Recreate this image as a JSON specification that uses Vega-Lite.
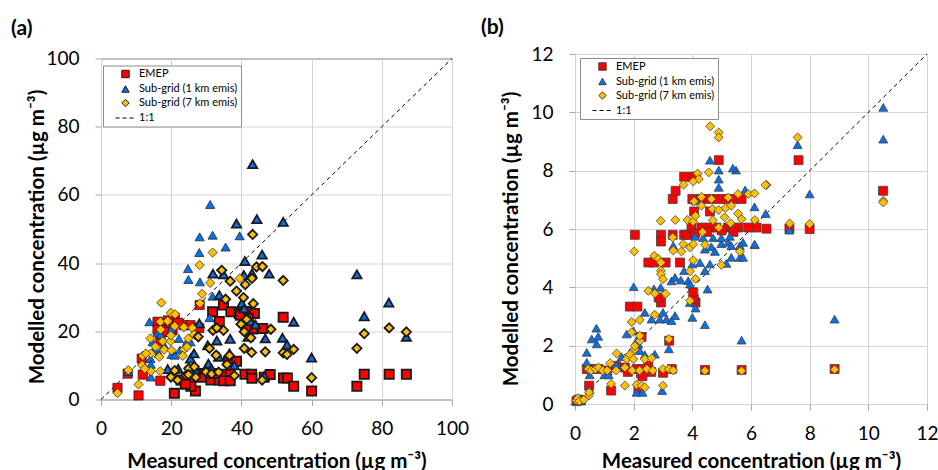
{
"$schema":"https://vega.github.io/schema/vega-lite/v6.json",
"background":"white",
"padding":{"left":10,"top":16,"right":4,"bottom":0},
"config":{
 "font":"Lato",
 "axis":{"domain":false,"grid":true,"gridColor":"#d4d4d4","gridWidth":1,"tickColor":"#a6a6a6","tickSize":6,"labelFont":"Lato","labelFontSize":19,"labelColor":"#000","labelFlush":false,"labelOverlap":false,"titleFont":"Lato","titleFontSize":20.5,"titleFontWeight":"bold","titleColor":"#000"},
 "legend":{"title":null,"orient":"none","strokeColor":"#8c8c8c","fillColor":"white","padding":3,"symbolOffset":14,"labelOffset":8,"labelFont":"Lato","labelFontSize":11,"labelColor":"#000","symbolSize":55,"symbolStrokeWidth":1,"rowPadding":2,"labelLimit":300},
 "title":{"font":"Lato","fontSize":21,"fontWeight":"bold","color":"#000","anchor":"start","frame":"group"}
},
"datasets":{
 "diagA":[{"x":0,"y":0},{"x":100,"y":100}],
 "diagB":[{"x":0,"y":0},{"x":12,"y":12}],
 "a":[
{"s":"EMEP","x":4.7,"y":3.4,"g":"thin"},{"s":"EMEP","x":10.7,"y":1.2,"g":"thin"},{"s":"EMEP","x":7.6,"y":7.6,"g":"thin"},{"s":"EMEP","x":11.9,"y":7.3,"g":"thin"},{"s":"EMEP","x":11.6,"y":12.0,"g":"thin"},{"s":"EMEP","x":16.9,"y":5.5,"g":"thin"},{"s":"EMEP","x":16.1,"y":22.8,"g":"thin"},{"s":"EMEP","x":17.6,"y":22.3,"g":"thin"},{"s":"EMEP","x":16.1,"y":20.5,"g":"thin"},{"s":"EMEP","x":16.9,"y":17.1,"g":"thin"},{"s":"EMEP","x":19.5,"y":22.0,"g":"thin"},{"s":"EMEP","x":20.4,"y":20.3,"g":"thin"},{"s":"EMEP","x":21.0,"y":24.0,"g":"thin"},{"s":"EMEP","x":23.5,"y":21.8,"g":"thin"},{"s":"EMEP","x":25.5,"y":21.8,"g":"thin"},{"s":"EMEP","x":28.0,"y":21.0,"g":"thin"},{"s":"EMEP","x":28.1,"y":27.7,"g":"thin"},{"s":"EMEP","x":19.0,"y":23.2,"g":"thin"},{"s":"EMEP","x":22.0,"y":22.5,"g":"thin"},{"s":"EMEP","x":18.0,"y":19.8,"g":"thin"},
{"s":"EMEP","x":20.9,"y":1.8,"g":"thick"},{"s":"EMEP","x":26.9,"y":2.5,"g":"thick"},{"s":"EMEP","x":22.8,"y":5.7,"g":"thick"},{"s":"EMEP","x":25.2,"y":5.7,"g":"thick"},{"s":"EMEP","x":25.6,"y":3.9,"g":"thick"},{"s":"EMEP","x":24.0,"y":4.5,"g":"thick"},{"s":"EMEP","x":28.0,"y":7.6,"g":"thick"},{"s":"EMEP","x":29.5,"y":7.4,"g":"thick"},{"s":"EMEP","x":31.3,"y":5.7,"g":"thick"},{"s":"EMEP","x":33.7,"y":5.7,"g":"thick"},{"s":"EMEP","x":31.3,"y":7.6,"g":"thick"},{"s":"EMEP","x":32.3,"y":7.6,"g":"thick"},{"s":"EMEP","x":34.9,"y":7.4,"g":"thick"},{"s":"EMEP","x":36.8,"y":7.4,"g":"thick"},{"s":"EMEP","x":34.9,"y":5.5,"g":"thick"},{"s":"EMEP","x":36.8,"y":5.5,"g":"thick"},{"s":"EMEP","x":41.0,"y":7.4,"g":"thick"},{"s":"EMEP","x":42.9,"y":7.4,"g":"thick"},{"s":"EMEP","x":43.0,"y":6.2,"g":"thick"},{"s":"EMEP","x":46.5,"y":6.5,"g":"thick"},{"s":"EMEP","x":48.2,"y":7.3,"g":"thick"},{"s":"EMEP","x":52.0,"y":6.3,"g":"thick"},{"s":"EMEP","x":53.1,"y":6.3,"g":"thick"},{"s":"EMEP","x":54.9,"y":3.9,"g":"thick"},{"s":"EMEP","x":60.0,"y":2.5,"g":"thick"},{"s":"EMEP","x":72.9,"y":3.9,"g":"thick"},{"s":"EMEP","x":75.0,"y":7.4,"g":"thick"},{"s":"EMEP","x":82.1,"y":7.4,"g":"thick"},{"s":"EMEP","x":87.0,"y":7.4,"g":"thick"},{"s":"EMEP","x":36.3,"y":11.2,"g":"thick"},{"s":"EMEP","x":38.6,"y":11.2,"g":"thick"},{"s":"EMEP","x":31.8,"y":25.7,"g":"thick"},{"s":"EMEP","x":34.9,"y":27.7,"g":"thick"},{"s":"EMEP","x":37.0,"y":25.7,"g":"thick"},{"s":"EMEP","x":39.4,"y":25.2,"g":"thick"},{"s":"EMEP","x":40.8,"y":25.7,"g":"thick"},{"s":"EMEP","x":42.3,"y":25.7,"g":"thick"},{"s":"EMEP","x":43.7,"y":25.2,"g":"thick"},{"s":"EMEP","x":39.7,"y":24.7,"g":"thick"},{"s":"EMEP","x":42.0,"y":23.8,"g":"thick"},{"s":"EMEP","x":43.2,"y":20.7,"g":"thick"},{"s":"EMEP","x":46.1,"y":20.8,"g":"thick"},{"s":"EMEP","x":41.3,"y":21.3,"g":"thick"},{"s":"EMEP","x":33.7,"y":22.9,"g":"thick"},{"s":"EMEP","x":51.9,"y":24.1,"g":"thick"},{"s":"EMEP","x":28.5,"y":6.5,"g":"thick"},
{"s":"Sub-grid (1 km emis)","x":31.1,"y":57.2,"g":"thin"},{"s":"Sub-grid (1 km emis)","x":28.1,"y":47.7,"g":"thin"},{"s":"Sub-grid (1 km emis)","x":31.8,"y":48.2,"g":"thin"},{"s":"Sub-grid (1 km emis)","x":39.5,"y":48.0,"g":"thin"},{"s":"Sub-grid (1 km emis)","x":35.5,"y":44.7,"g":"thin"},{"s":"Sub-grid (1 km emis)","x":28.0,"y":43.1,"g":"thin"},{"s":"Sub-grid (1 km emis)","x":24.8,"y":38.4,"g":"thin"},{"s":"Sub-grid (1 km emis)","x":24.9,"y":35.2,"g":"thin"},{"s":"Sub-grid (1 km emis)","x":28.2,"y":34.5,"g":"thin"},{"s":"Sub-grid (1 km emis)","x":31.8,"y":30.3,"g":"thin"},{"s":"Sub-grid (1 km emis)","x":13.8,"y":22.8,"g":"thin"},{"s":"Sub-grid (1 km emis)","x":16.2,"y":19.7,"g":"thin"},{"s":"Sub-grid (1 km emis)","x":17.0,"y":19.0,"g":"thin"},{"s":"Sub-grid (1 km emis)","x":19.8,"y":19.7,"g":"thin"},{"s":"Sub-grid (1 km emis)","x":20.1,"y":20.7,"g":"thin"},{"s":"Sub-grid (1 km emis)","x":22.2,"y":17.9,"g":"thin"},{"s":"Sub-grid (1 km emis)","x":24.5,"y":17.0,"g":"thin"},{"s":"Sub-grid (1 km emis)","x":25.5,"y":16.9,"g":"thin"},{"s":"Sub-grid (1 km emis)","x":15.2,"y":14.6,"g":"thin"},{"s":"Sub-grid (1 km emis)","x":18.0,"y":15.9,"g":"thin"},{"s":"Sub-grid (1 km emis)","x":20.1,"y":13.2,"g":"thin"},{"s":"Sub-grid (1 km emis)","x":21.0,"y":13.0,"g":"thin"},{"s":"Sub-grid (1 km emis)","x":14.1,"y":12.0,"g":"thin"},{"s":"Sub-grid (1 km emis)","x":14.2,"y":10.3,"g":"thin"},{"s":"Sub-grid (1 km emis)","x":14.2,"y":6.6,"g":"thin"},{"s":"Sub-grid (1 km emis)","x":14.7,"y":16.9,"g":"thin"},{"s":"Sub-grid (1 km emis)","x":30.9,"y":24.0,"g":"thin"},{"s":"Sub-grid (1 km emis)","x":7.8,"y":8.2,"g":"thin"},{"s":"Sub-grid (1 km emis)","x":22.5,"y":14.5,"g":"thin"},{"s":"Sub-grid (1 km emis)","x":16.5,"y":13.5,"g":"thin"},
{"s":"Sub-grid (1 km emis)","x":43.2,"y":69.0,"g":"thick"},{"s":"Sub-grid (1 km emis)","x":38.6,"y":51.6,"g":"thick"},{"s":"Sub-grid (1 km emis)","x":44.4,"y":52.9,"g":"thick"},{"s":"Sub-grid (1 km emis)","x":51.9,"y":52.1,"g":"thick"},{"s":"Sub-grid (1 km emis)","x":45.9,"y":42.5,"g":"thick"},{"s":"Sub-grid (1 km emis)","x":41.0,"y":40.6,"g":"thick"},{"s":"Sub-grid (1 km emis)","x":31.9,"y":36.9,"g":"thick"},{"s":"Sub-grid (1 km emis)","x":34.9,"y":36.7,"g":"thick"},{"s":"Sub-grid (1 km emis)","x":40.7,"y":36.5,"g":"thick"},{"s":"Sub-grid (1 km emis)","x":43.0,"y":37.0,"g":"thick"},{"s":"Sub-grid (1 km emis)","x":47.9,"y":36.9,"g":"thick"},{"s":"Sub-grid (1 km emis)","x":33.7,"y":30.6,"g":"thick"},{"s":"Sub-grid (1 km emis)","x":40.1,"y":28.2,"g":"thick"},{"s":"Sub-grid (1 km emis)","x":72.9,"y":36.7,"g":"thick"},{"s":"Sub-grid (1 km emis)","x":82.0,"y":28.4,"g":"thick"},{"s":"Sub-grid (1 km emis)","x":75.0,"y":24.4,"g":"thick"},{"s":"Sub-grid (1 km emis)","x":87.0,"y":18.4,"g":"thick"},{"s":"Sub-grid (1 km emis)","x":60.0,"y":12.3,"g":"thick"},{"s":"Sub-grid (1 km emis)","x":54.9,"y":22.8,"g":"thick"},{"s":"Sub-grid (1 km emis)","x":51.7,"y":18.1,"g":"thick"},{"s":"Sub-grid (1 km emis)","x":53.0,"y":16.1,"g":"thick"},{"s":"Sub-grid (1 km emis)","x":40.8,"y":26.7,"g":"thick"},{"s":"Sub-grid (1 km emis)","x":41.9,"y":18.4,"g":"thick"},{"s":"Sub-grid (1 km emis)","x":46.8,"y":17.9,"g":"thick"},{"s":"Sub-grid (1 km emis)","x":36.8,"y":17.8,"g":"thick"},{"s":"Sub-grid (1 km emis)","x":33.0,"y":17.3,"g":"thick"},{"s":"Sub-grid (1 km emis)","x":30.4,"y":15.9,"g":"thick"},{"s":"Sub-grid (1 km emis)","x":30.6,"y":10.5,"g":"thick"},{"s":"Sub-grid (1 km emis)","x":28.0,"y":22.3,"g":"thick"},{"s":"Sub-grid (1 km emis)","x":19.0,"y":8.9,"g":"thick"},{"s":"Sub-grid (1 km emis)","x":46.5,"y":6.9,"g":"thick"},{"s":"Sub-grid (1 km emis)","x":22.0,"y":9.0,"g":"thick"},{"s":"Sub-grid (1 km emis)","x":25.5,"y":12.0,"g":"thick"},{"s":"Sub-grid (1 km emis)","x":27.0,"y":8.5,"g":"thick"},{"s":"Sub-grid (1 km emis)","x":33.5,"y":12.5,"g":"thick"},{"s":"Sub-grid (1 km emis)","x":36.6,"y":13.5,"g":"thick"},{"s":"Sub-grid (1 km emis)","x":42.5,"y":23.0,"g":"thick"},{"s":"Sub-grid (1 km emis)","x":44.0,"y":22.0,"g":"thick"},{"s":"Sub-grid (1 km emis)","x":26.5,"y":13.5,"g":"thick"},{"s":"Sub-grid (1 km emis)","x":38.0,"y":10.0,"g":"thick"},{"s":"Sub-grid (1 km emis)","x":31.5,"y":9.0,"g":"thick"},
{"s":"Sub-grid (7 km emis)","x":17.2,"y":28.4,"g":"thin"},{"s":"Sub-grid (7 km emis)","x":28.1,"y":39.4,"g":"thin"},{"s":"Sub-grid (7 km emis)","x":31.8,"y":43.1,"g":"thin"},{"s":"Sub-grid (7 km emis)","x":31.1,"y":34.2,"g":"thin"},{"s":"Sub-grid (7 km emis)","x":28.8,"y":31.0,"g":"thin"},{"s":"Sub-grid (7 km emis)","x":28.2,"y":28.2,"g":"thin"},{"s":"Sub-grid (7 km emis)","x":39.5,"y":35.5,"g":"thin"},{"s":"Sub-grid (7 km emis)","x":19.9,"y":25.4,"g":"thin"},{"s":"Sub-grid (7 km emis)","x":21.1,"y":25.0,"g":"thin"},{"s":"Sub-grid (7 km emis)","x":16.9,"y":22.8,"g":"thin"},{"s":"Sub-grid (7 km emis)","x":19.0,"y":23.0,"g":"thin"},{"s":"Sub-grid (7 km emis)","x":23.6,"y":21.2,"g":"thin"},{"s":"Sub-grid (7 km emis)","x":14.1,"y":17.9,"g":"thin"},{"s":"Sub-grid (7 km emis)","x":17.6,"y":17.1,"g":"thin"},{"s":"Sub-grid (7 km emis)","x":19.8,"y":17.1,"g":"thin"},{"s":"Sub-grid (7 km emis)","x":19.9,"y":18.8,"g":"thin"},{"s":"Sub-grid (7 km emis)","x":24.9,"y":17.9,"g":"thin"},{"s":"Sub-grid (7 km emis)","x":18.0,"y":14.6,"g":"thin"},{"s":"Sub-grid (7 km emis)","x":20.1,"y":14.4,"g":"thin"},{"s":"Sub-grid (7 km emis)","x":14.2,"y":13.5,"g":"thin"},{"s":"Sub-grid (7 km emis)","x":23.7,"y":14.7,"g":"thin"},{"s":"Sub-grid (7 km emis)","x":24.5,"y":15.4,"g":"thin"},{"s":"Sub-grid (7 km emis)","x":23.3,"y":12.8,"g":"thin"},{"s":"Sub-grid (7 km emis)","x":16.6,"y":12.5,"g":"thin"},{"s":"Sub-grid (7 km emis)","x":11.9,"y":12.8,"g":"thin"},{"s":"Sub-grid (7 km emis)","x":11.7,"y":10.1,"g":"thin"},{"s":"Sub-grid (7 km emis)","x":14.2,"y":8.3,"g":"thin"},{"s":"Sub-grid (7 km emis)","x":16.9,"y":8.3,"g":"thin"},{"s":"Sub-grid (7 km emis)","x":7.8,"y":8.6,"g":"thin"},{"s":"Sub-grid (7 km emis)","x":10.7,"y":4.4,"g":"thin"},{"s":"Sub-grid (7 km emis)","x":4.7,"y":1.9,"g":"thin"},{"s":"Sub-grid (7 km emis)","x":12.5,"y":9.0,"g":"thin"},{"s":"Sub-grid (7 km emis)","x":15.5,"y":15.5,"g":"thin"},{"s":"Sub-grid (7 km emis)","x":21.0,"y":21.5,"g":"thin"},{"s":"Sub-grid (7 km emis)","x":26.0,"y":21.0,"g":"thin"},{"s":"Sub-grid (7 km emis)","x":26.5,"y":19.0,"g":"thin"},{"s":"Sub-grid (7 km emis)","x":17.0,"y":20.5,"g":"thin"},{"s":"Sub-grid (7 km emis)","x":12.8,"y":13.5,"g":"thin"},
{"s":"Sub-grid (7 km emis)","x":43.2,"y":48.4,"g":"thick"},{"s":"Sub-grid (7 km emis)","x":34.4,"y":37.9,"g":"thick"},{"s":"Sub-grid (7 km emis)","x":44.3,"y":38.9,"g":"thick"},{"s":"Sub-grid (7 km emis)","x":46.0,"y":39.0,"g":"thick"},{"s":"Sub-grid (7 km emis)","x":36.8,"y":34.7,"g":"thick"},{"s":"Sub-grid (7 km emis)","x":41.1,"y":33.7,"g":"thick"},{"s":"Sub-grid (7 km emis)","x":43.0,"y":35.5,"g":"thick"},{"s":"Sub-grid (7 km emis)","x":51.9,"y":34.9,"g":"thick"},{"s":"Sub-grid (7 km emis)","x":35.5,"y":29.4,"g":"thick"},{"s":"Sub-grid (7 km emis)","x":38.6,"y":31.8,"g":"thick"},{"s":"Sub-grid (7 km emis)","x":40.6,"y":29.9,"g":"thick"},{"s":"Sub-grid (7 km emis)","x":43.4,"y":28.1,"g":"thick"},{"s":"Sub-grid (7 km emis)","x":82.1,"y":21.0,"g":"thick"},{"s":"Sub-grid (7 km emis)","x":87.0,"y":19.8,"g":"thick"},{"s":"Sub-grid (7 km emis)","x":75.0,"y":19.3,"g":"thick"},{"s":"Sub-grid (7 km emis)","x":72.9,"y":15.0,"g":"thick"},{"s":"Sub-grid (7 km emis)","x":60.0,"y":6.4,"g":"thick"},{"s":"Sub-grid (7 km emis)","x":54.9,"y":14.7,"g":"thick"},{"s":"Sub-grid (7 km emis)","x":51.9,"y":13.7,"g":"thick"},{"s":"Sub-grid (7 km emis)","x":53.0,"y":13.2,"g":"thick"},{"s":"Sub-grid (7 km emis)","x":48.4,"y":20.6,"g":"thick"},{"s":"Sub-grid (7 km emis)","x":31.9,"y":20.3,"g":"thick"},{"s":"Sub-grid (7 km emis)","x":34.9,"y":20.3,"g":"thick"},{"s":"Sub-grid (7 km emis)","x":39.9,"y":22.1,"g":"thick"},{"s":"Sub-grid (7 km emis)","x":40.8,"y":19.9,"g":"thick"},{"s":"Sub-grid (7 km emis)","x":42.7,"y":18.1,"g":"thick"},{"s":"Sub-grid (7 km emis)","x":30.9,"y":15.0,"g":"thick"},{"s":"Sub-grid (7 km emis)","x":32.8,"y":13.0,"g":"thick"},{"s":"Sub-grid (7 km emis)","x":27.7,"y":18.4,"g":"thick"},{"s":"Sub-grid (7 km emis)","x":35.9,"y":10.3,"g":"thick"},{"s":"Sub-grid (7 km emis)","x":36.6,"y":12.9,"g":"thick"},{"s":"Sub-grid (7 km emis)","x":40.8,"y":15.0,"g":"thick"},{"s":"Sub-grid (7 km emis)","x":42.9,"y":13.8,"g":"thick"},{"s":"Sub-grid (7 km emis)","x":46.8,"y":14.0,"g":"thick"},{"s":"Sub-grid (7 km emis)","x":29.9,"y":8.1,"g":"thick"},{"s":"Sub-grid (7 km emis)","x":45.9,"y":5.7,"g":"thick"},{"s":"Sub-grid (7 km emis)","x":19.9,"y":6.6,"g":"thick"},{"s":"Sub-grid (7 km emis)","x":21.8,"y":5.7,"g":"thick"},{"s":"Sub-grid (7 km emis)","x":24.2,"y":7.1,"g":"thick"},{"s":"Sub-grid (7 km emis)","x":25.0,"y":9.1,"g":"thick"},{"s":"Sub-grid (7 km emis)","x":26.6,"y":9.6,"g":"thick"},{"s":"Sub-grid (7 km emis)","x":24.9,"y":7.3,"g":"thick"},{"s":"Sub-grid (7 km emis)","x":27.0,"y":6.5,"g":"thick"},{"s":"Sub-grid (7 km emis)","x":31.5,"y":7.5,"g":"thick"},{"s":"Sub-grid (7 km emis)","x":33.5,"y":8.0,"g":"thick"},{"s":"Sub-grid (7 km emis)","x":38.0,"y":7.0,"g":"thick"},{"s":"Sub-grid (7 km emis)","x":21.0,"y":8.5,"g":"thick"},{"s":"Sub-grid (7 km emis)","x":33.0,"y":21.0,"g":"thick"},{"s":"Sub-grid (7 km emis)","x":41.5,"y":23.5,"g":"thick"}
 ],
 "b":[
{"s":"EMEP","x":0.05,"y":0.1},{"s":"EMEP","x":0.12,"y":0.15},{"s":"EMEP","x":0.2,"y":0.12},{"s":"EMEP","x":0.48,"y":0.63},{"s":"EMEP","x":1.23,"y":0.46},{"s":"EMEP","x":2.16,"y":0.46},{"s":"EMEP","x":0.4,"y":1.2},{"s":"EMEP","x":0.6,"y":1.2},{"s":"EMEP","x":0.8,"y":1.2},{"s":"EMEP","x":1.1,"y":1.15},{"s":"EMEP","x":1.4,"y":1.3},{"s":"EMEP","x":1.7,"y":1.25},{"s":"EMEP","x":1.8,"y":1.1},{"s":"EMEP","x":2.1,"y":1.2},{"s":"EMEP","x":2.25,"y":1.05},{"s":"EMEP","x":2.35,"y":1.2},{"s":"EMEP","x":2.5,"y":1.3},{"s":"EMEP","x":2.6,"y":1.1},{"s":"EMEP","x":3.0,"y":1.07},{"s":"EMEP","x":3.3,"y":1.2},{"s":"EMEP","x":4.43,"y":1.17},{"s":"EMEP","x":5.68,"y":1.17},{"s":"EMEP","x":8.85,"y":1.2},{"s":"EMEP","x":2.3,"y":0.95},{"s":"EMEP","x":2.27,"y":2.3},{"s":"EMEP","x":3.21,"y":2.17},{"s":"EMEP","x":1.87,"y":3.34},{"s":"EMEP","x":2.13,"y":3.34},{"s":"EMEP","x":2.93,"y":3.48},{"s":"EMEP","x":2.85,"y":3.65},{"s":"EMEP","x":4.11,"y":3.48},{"s":"EMEP","x":4.05,"y":3.6},{"s":"EMEP","x":4.03,"y":3.83},{"s":"EMEP","x":2.5,"y":4.85},{"s":"EMEP","x":2.69,"y":4.85},{"s":"EMEP","x":3.09,"y":4.85},{"s":"EMEP","x":3.58,"y":4.85},{"s":"EMEP","x":2.04,"y":5.8},{"s":"EMEP","x":2.93,"y":5.8},{"s":"EMEP","x":2.93,"y":5.57},{"s":"EMEP","x":3.33,"y":5.8},{"s":"EMEP","x":3.72,"y":5.8},{"s":"EMEP","x":3.83,"y":5.8},{"s":"EMEP","x":3.97,"y":6.05},{"s":"EMEP","x":4.31,"y":6.05},{"s":"EMEP","x":4.6,"y":6.05},{"s":"EMEP","x":4.82,"y":6.05},{"s":"EMEP","x":5.22,"y":6.05},{"s":"EMEP","x":5.56,"y":6.05},{"s":"EMEP","x":5.9,"y":6.05},{"s":"EMEP","x":6.19,"y":6.05},{"s":"EMEP","x":6.53,"y":6.01},{"s":"EMEP","x":7.31,"y":6.02},{"s":"EMEP","x":8.0,"y":6.0},{"s":"EMEP","x":4.1,"y":5.85},{"s":"EMEP","x":4.5,"y":5.9},{"s":"EMEP","x":5.0,"y":5.95},{"s":"EMEP","x":5.4,"y":5.9},{"s":"EMEP","x":3.33,"y":7.03},{"s":"EMEP","x":3.43,"y":7.31},{"s":"EMEP","x":4.0,"y":7.03},{"s":"EMEP","x":4.29,"y":7.03},{"s":"EMEP","x":4.6,"y":7.03},{"s":"EMEP","x":4.88,"y":7.03},{"s":"EMEP","x":5.16,"y":7.03},{"s":"EMEP","x":5.45,"y":7.03},{"s":"EMEP","x":5.68,"y":7.03},{"s":"EMEP","x":4.06,"y":6.6},{"s":"EMEP","x":4.6,"y":6.6},{"s":"EMEP","x":3.72,"y":7.79},{"s":"EMEP","x":4.0,"y":7.79},{"s":"EMEP","x":4.12,"y":7.79},{"s":"EMEP","x":4.9,"y":8.36},{"s":"EMEP","x":7.62,"y":8.36},{"s":"EMEP","x":10.5,"y":7.31},
{"s":"Sub-grid (1 km emis)","x":0.05,"y":0.1},{"s":"Sub-grid (1 km emis)","x":0.1,"y":0.15},{"s":"Sub-grid (1 km emis)","x":0.2,"y":0.12},{"s":"Sub-grid (1 km emis)","x":0.5,"y":0.5},{"s":"Sub-grid (1 km emis)","x":0.4,"y":1.43},{"s":"Sub-grid (1 km emis)","x":0.4,"y":1.77},{"s":"Sub-grid (1 km emis)","x":0.57,"y":2.23},{"s":"Sub-grid (1 km emis)","x":0.73,"y":2.6},{"s":"Sub-grid (1 km emis)","x":0.79,"y":2.32},{"s":"Sub-grid (1 km emis)","x":0.74,"y":2.06},{"s":"Sub-grid (1 km emis)","x":0.5,"y":1.0},{"s":"Sub-grid (1 km emis)","x":1.0,"y":1.0},{"s":"Sub-grid (1 km emis)","x":1.15,"y":1.0},{"s":"Sub-grid (1 km emis)","x":1.4,"y":1.35},{"s":"Sub-grid (1 km emis)","x":1.59,"y":1.62},{"s":"Sub-grid (1 km emis)","x":1.76,"y":2.4},{"s":"Sub-grid (1 km emis)","x":1.99,"y":2.51},{"s":"Sub-grid (1 km emis)","x":2.1,"y":2.17},{"s":"Sub-grid (1 km emis)","x":2.16,"y":2.05},{"s":"Sub-grid (1 km emis)","x":2.21,"y":1.83},{"s":"Sub-grid (1 km emis)","x":2.38,"y":1.69},{"s":"Sub-grid (1 km emis)","x":2.72,"y":1.71},{"s":"Sub-grid (1 km emis)","x":2.1,"y":0.4},{"s":"Sub-grid (1 km emis)","x":2.3,"y":0.4},{"s":"Sub-grid (1 km emis)","x":2.97,"y":0.46},{"s":"Sub-grid (1 km emis)","x":2.0,"y":4.02},{"s":"Sub-grid (1 km emis)","x":2.38,"y":3.14},{"s":"Sub-grid (1 km emis)","x":2.61,"y":2.91},{"s":"Sub-grid (1 km emis)","x":2.89,"y":2.91},{"s":"Sub-grid (1 km emis)","x":3.0,"y":3.14},{"s":"Sub-grid (1 km emis)","x":3.12,"y":2.91},{"s":"Sub-grid (1 km emis)","x":3.29,"y":2.86},{"s":"Sub-grid (1 km emis)","x":3.41,"y":3.03},{"s":"Sub-grid (1 km emis)","x":3.2,"y":1.89},{"s":"Sub-grid (1 km emis)","x":3.92,"y":3.48},{"s":"Sub-grid (1 km emis)","x":4.11,"y":3.29},{"s":"Sub-grid (1 km emis)","x":4.0,"y":2.97},{"s":"Sub-grid (1 km emis)","x":4.43,"y":2.72},{"s":"Sub-grid (1 km emis)","x":4.52,"y":3.94},{"s":"Sub-grid (1 km emis)","x":2.69,"y":3.95},{"s":"Sub-grid (1 km emis)","x":2.92,"y":4.0},{"s":"Sub-grid (1 km emis)","x":3.29,"y":4.22},{"s":"Sub-grid (1 km emis)","x":3.41,"y":4.34},{"s":"Sub-grid (1 km emis)","x":3.61,"y":4.25},{"s":"Sub-grid (1 km emis)","x":3.86,"y":4.23},{"s":"Sub-grid (1 km emis)","x":3.92,"y":4.11},{"s":"Sub-grid (1 km emis)","x":3.72,"y":4.57},{"s":"Sub-grid (1 km emis)","x":4.43,"y":4.57},{"s":"Sub-grid (1 km emis)","x":4.0,"y":4.8},{"s":"Sub-grid (1 km emis)","x":4.26,"y":4.85},{"s":"Sub-grid (1 km emis)","x":4.6,"y":4.8},{"s":"Sub-grid (1 km emis)","x":5.16,"y":4.82},{"s":"Sub-grid (1 km emis)","x":5.33,"y":5.03},{"s":"Sub-grid (1 km emis)","x":5.62,"y":5.03},{"s":"Sub-grid (1 km emis)","x":5.73,"y":5.03},{"s":"Sub-grid (1 km emis)","x":3.35,"y":5.43},{"s":"Sub-grid (1 km emis)","x":4.43,"y":5.31},{"s":"Sub-grid (1 km emis)","x":4.65,"y":5.39},{"s":"Sub-grid (1 km emis)","x":4.77,"y":5.23},{"s":"Sub-grid (1 km emis)","x":4.99,"y":5.5},{"s":"Sub-grid (1 km emis)","x":5.22,"y":5.54},{"s":"Sub-grid (1 km emis)","x":5.33,"y":5.43},{"s":"Sub-grid (1 km emis)","x":5.62,"y":5.43},{"s":"Sub-grid (1 km emis)","x":5.73,"y":5.54},{"s":"Sub-grid (1 km emis)","x":6.13,"y":5.46},{"s":"Sub-grid (1 km emis)","x":4.09,"y":5.75},{"s":"Sub-grid (1 km emis)","x":4.37,"y":5.7},{"s":"Sub-grid (1 km emis)","x":4.71,"y":5.7},{"s":"Sub-grid (1 km emis)","x":4.99,"y":5.7},{"s":"Sub-grid (1 km emis)","x":5.28,"y":5.75},{"s":"Sub-grid (1 km emis)","x":6.12,"y":5.48},{"s":"Sub-grid (1 km emis)","x":6.12,"y":6.76},{"s":"Sub-grid (1 km emis)","x":6.5,"y":6.53},{"s":"Sub-grid (1 km emis)","x":5.8,"y":7.34},{"s":"Sub-grid (1 km emis)","x":5.49,"y":8.02},{"s":"Sub-grid (1 km emis)","x":5.38,"y":8.09},{"s":"Sub-grid (1 km emis)","x":4.9,"y":8.02},{"s":"Sub-grid (1 km emis)","x":4.9,"y":7.71},{"s":"Sub-grid (1 km emis)","x":4.9,"y":7.43},{"s":"Sub-grid (1 km emis)","x":4.6,"y":8.36},{"s":"Sub-grid (1 km emis)","x":4.11,"y":6.97},{"s":"Sub-grid (1 km emis)","x":5.68,"y":2.19},{"s":"Sub-grid (1 km emis)","x":8.85,"y":2.91},{"s":"Sub-grid (1 km emis)","x":7.31,"y":5.96},{"s":"Sub-grid (1 km emis)","x":8.0,"y":7.2},{"s":"Sub-grid (1 km emis)","x":7.59,"y":8.89},{"s":"Sub-grid (1 km emis)","x":10.51,"y":10.17},{"s":"Sub-grid (1 km emis)","x":10.51,"y":9.08},
{"s":"Sub-grid (7 km emis)","x":0.05,"y":0.12},{"s":"Sub-grid (7 km emis)","x":0.1,"y":0.2},{"s":"Sub-grid (7 km emis)","x":0.15,"y":0.1},{"s":"Sub-grid (7 km emis)","x":0.3,"y":0.15},{"s":"Sub-grid (7 km emis)","x":0.48,"y":0.29},{"s":"Sub-grid (7 km emis)","x":0.48,"y":0.4},{"s":"Sub-grid (7 km emis)","x":1.23,"y":0.69},{"s":"Sub-grid (7 km emis)","x":1.7,"y":0.63},{"s":"Sub-grid (7 km emis)","x":2.1,"y":0.66},{"s":"Sub-grid (7 km emis)","x":2.27,"y":0.63},{"s":"Sub-grid (7 km emis)","x":2.38,"y":0.57},{"s":"Sub-grid (7 km emis)","x":3.0,"y":0.63},{"s":"Sub-grid (7 km emis)","x":0.45,"y":1.2},{"s":"Sub-grid (7 km emis)","x":0.55,"y":1.15},{"s":"Sub-grid (7 km emis)","x":0.7,"y":1.2},{"s":"Sub-grid (7 km emis)","x":0.8,"y":1.25},{"s":"Sub-grid (7 km emis)","x":0.95,"y":1.15},{"s":"Sub-grid (7 km emis)","x":1.1,"y":1.15},{"s":"Sub-grid (7 km emis)","x":1.2,"y":1.4},{"s":"Sub-grid (7 km emis)","x":1.4,"y":1.15},{"s":"Sub-grid (7 km emis)","x":1.7,"y":1.25},{"s":"Sub-grid (7 km emis)","x":1.95,"y":1.15},{"s":"Sub-grid (7 km emis)","x":2.2,"y":1.15},{"s":"Sub-grid (7 km emis)","x":2.45,"y":1.2},{"s":"Sub-grid (7 km emis)","x":2.65,"y":1.15},{"s":"Sub-grid (7 km emis)","x":3.0,"y":1.2},{"s":"Sub-grid (7 km emis)","x":3.2,"y":1.2},{"s":"Sub-grid (7 km emis)","x":3.35,"y":1.15},{"s":"Sub-grid (7 km emis)","x":4.43,"y":1.14},{"s":"Sub-grid (7 km emis)","x":5.68,"y":1.14},{"s":"Sub-grid (7 km emis)","x":8.85,"y":1.18},{"s":"Sub-grid (7 km emis)","x":1.42,"y":1.73},{"s":"Sub-grid (7 km emis)","x":1.76,"y":1.54},{"s":"Sub-grid (7 km emis)","x":1.87,"y":1.69},{"s":"Sub-grid (7 km emis)","x":1.99,"y":1.54},{"s":"Sub-grid (7 km emis)","x":2.38,"y":1.54},{"s":"Sub-grid (7 km emis)","x":2.61,"y":1.57},{"s":"Sub-grid (7 km emis)","x":2.04,"y":1.88},{"s":"Sub-grid (7 km emis)","x":2.04,"y":1.99},{"s":"Sub-grid (7 km emis)","x":2.21,"y":2.17},{"s":"Sub-grid (7 km emis)","x":2.21,"y":2.34},{"s":"Sub-grid (7 km emis)","x":1.93,"y":2.46},{"s":"Sub-grid (7 km emis)","x":1.93,"y":2.81},{"s":"Sub-grid (7 km emis)","x":2.21,"y":2.88},{"s":"Sub-grid (7 km emis)","x":2.72,"y":3.06},{"s":"Sub-grid (7 km emis)","x":3.2,"y":2.23},{"s":"Sub-grid (7 km emis)","x":2.5,"y":3.88},{"s":"Sub-grid (7 km emis)","x":2.72,"y":3.79},{"s":"Sub-grid (7 km emis)","x":3.09,"y":3.78},{"s":"Sub-grid (7 km emis)","x":3.92,"y":3.54},{"s":"Sub-grid (7 km emis)","x":2.93,"y":4.57},{"s":"Sub-grid (7 km emis)","x":2.93,"y":4.45},{"s":"Sub-grid (7 km emis)","x":3.0,"y":4.28},{"s":"Sub-grid (7 km emis)","x":3.92,"y":4.55},{"s":"Sub-grid (7 km emis)","x":4.11,"y":4.29},{"s":"Sub-grid (7 km emis)","x":4.03,"y":4.93},{"s":"Sub-grid (7 km emis)","x":4.99,"y":4.77},{"s":"Sub-grid (7 km emis)","x":2.7,"y":5.08},{"s":"Sub-grid (7 km emis)","x":2.84,"y":4.97},{"s":"Sub-grid (7 km emis)","x":2.93,"y":4.85},{"s":"Sub-grid (7 km emis)","x":2.02,"y":5.23},{"s":"Sub-grid (7 km emis)","x":3.35,"y":5.26},{"s":"Sub-grid (7 km emis)","x":3.63,"y":5.23},{"s":"Sub-grid (7 km emis)","x":3.92,"y":5.37},{"s":"Sub-grid (7 km emis)","x":4.03,"y":5.48},{"s":"Sub-grid (7 km emis)","x":3.69,"y":5.48},{"s":"Sub-grid (7 km emis)","x":4.43,"y":5.46},{"s":"Sub-grid (7 km emis)","x":5.62,"y":5.23},{"s":"Sub-grid (7 km emis)","x":3.33,"y":5.71},{"s":"Sub-grid (7 km emis)","x":2.92,"y":6.28},{"s":"Sub-grid (7 km emis)","x":3.42,"y":6.31},{"s":"Sub-grid (7 km emis)","x":3.83,"y":6.31},{"s":"Sub-grid (7 km emis)","x":4.03,"y":6.26},{"s":"Sub-grid (7 km emis)","x":4.11,"y":6.45},{"s":"Sub-grid (7 km emis)","x":4.06,"y":6.95},{"s":"Sub-grid (7 km emis)","x":4.31,"y":6.8},{"s":"Sub-grid (7 km emis)","x":4.68,"y":6.69},{"s":"Sub-grid (7 km emis)","x":4.9,"y":6.65},{"s":"Sub-grid (7 km emis)","x":5.13,"y":6.72},{"s":"Sub-grid (7 km emis)","x":5.33,"y":6.8},{"s":"Sub-grid (7 km emis)","x":5.56,"y":6.53},{"s":"Sub-grid (7 km emis)","x":5.68,"y":6.34},{"s":"Sub-grid (7 km emis)","x":4.31,"y":7.1},{"s":"Sub-grid (7 km emis)","x":4.65,"y":7.03},{"s":"Sub-grid (7 km emis)","x":5.22,"y":7.08},{"s":"Sub-grid (7 km emis)","x":5.56,"y":7.2},{"s":"Sub-grid (7 km emis)","x":5.91,"y":7.2},{"s":"Sub-grid (7 km emis)","x":6.12,"y":7.22},{"s":"Sub-grid (7 km emis)","x":6.13,"y":6.31},{"s":"Sub-grid (7 km emis)","x":6.53,"y":7.51},{"s":"Sub-grid (7 km emis)","x":4.9,"y":6.05},{"s":"Sub-grid (7 km emis)","x":4.18,"y":7.9},{"s":"Sub-grid (7 km emis)","x":4.22,"y":7.71},{"s":"Sub-grid (7 km emis)","x":4.03,"y":7.63},{"s":"Sub-grid (7 km emis)","x":3.7,"y":7.52},{"s":"Sub-grid (7 km emis)","x":4.56,"y":7.94},{"s":"Sub-grid (7 km emis)","x":4.61,"y":9.52},{"s":"Sub-grid (7 km emis)","x":4.9,"y":9.31},{"s":"Sub-grid (7 km emis)","x":4.9,"y":9.14},{"s":"Sub-grid (7 km emis)","x":7.32,"y":6.19},{"s":"Sub-grid (7 km emis)","x":8.0,"y":6.17},{"s":"Sub-grid (7 km emis)","x":6.49,"y":7.51},{"s":"Sub-grid (7 km emis)","x":7.59,"y":9.14},{"s":"Sub-grid (7 km emis)","x":10.51,"y":6.97},{"s":"Sub-grid (7 km emis)","x":10.51,"y":6.91},{"s":"Sub-grid (7 km emis)","x":4.35,"y":5.9},{"s":"Sub-grid (7 km emis)","x":5.1,"y":6.4},{"s":"Sub-grid (7 km emis)","x":5.3,"y":6.2},{"s":"Sub-grid (7 km emis)","x":4.7,"y":6.3}
 ]
},
"bounds":"flush",
"center":true,
"spacing":123,
"hconcat":[
 {
  "width":351,"height":341,
  "view":{"stroke":"#595959","strokeWidth":1},
  "title":{"text":"(a)","dx":-90,"offset":11},
  "encoding":{
   "x":{"field":"x","type":"quantitative","scale":{"domain":[0,100],"nice":false,"zero":false},"axis":{"title":"Measured  concentration (µg m⁻³)","values":[0,20,40,60,80,100],"labelPadding":14,"titleY":67.5,"titleBaseline":"alphabetic"}},
   "y":{"field":"y","type":"quantitative","scale":{"domain":[0,100],"nice":false,"zero":false},"axis":{"title":"Modelled  concentration (µg m⁻³)","values":[0,20,40,60,80,100],"labelPadding":16,"titleX":-58,"titleY":178,"titleAngle":-90,"titleAlign":"center","titleBaseline":"alphabetic"}}
  },
  "layer":[
   {"data":{"name":"diagA"},"mark":{"type":"line","color":"#000","strokeWidth":1,"strokeDash":[4,3.5]}},
   {"data":{"name":"a"},"mark":{"type":"point","filled":true,"size":85,"opacity":1},
    "encoding":{
     "shape":{"field":"s","type":"nominal","scale":{"domain":["EMEP","Sub-grid (1 km emis)","Sub-grid (7 km emis)","1:1"],"range":["square","triangle-up","diamond","M-2.7,0H-1.6M-0.8,0H0.3M1.1,0H2.2"]},"legend":{"legendX":2,"legendY":7}},
     "fill":{"field":"s","type":"nominal","scale":{"domain":["EMEP","Sub-grid (1 km emis)","Sub-grid (7 km emis)","1:1"],"range":["#FF0000","#0B6FE6","#FFC000","transparent"]},"legend":{"legendX":2,"legendY":7}},
     "stroke":{"field":"s","type":"nominal","scale":{"domain":["EMEP","Sub-grid (1 km emis)","Sub-grid (7 km emis)","1:1"],"range":["#1a1a1a","#1a1a1a","#1a1a1a","#000000"]},"legend":{"legendX":2,"legendY":7}},
     "strokeWidth":{"field":"g","type":"nominal","scale":{"domain":["thin","thick"],"range":[0.7,1.8]},"legend":null}
    }}
  ]
 },
 {
  "width":352,"height":350,
  "view":{"stroke":"#8c8c8c","strokeWidth":1},
  "title":{"text":"(b)","dx":-94,"offset":7},
  "encoding":{
   "x":{"field":"x","type":"quantitative","scale":{"domain":[0,12],"nice":false,"zero":false},"axis":{"title":"Measured  concentration (µg m⁻³)","values":[0,2,4,6,8,10,12],"labelPadding":14,"titleY":63,"titleBaseline":"alphabetic"}},
   "y":{"field":"y","type":"quantitative","scale":{"domain":[0,12],"nice":false,"zero":false},"axis":{"title":"Modelled  concentration (µg m⁻³)","values":[0,2,4,6,8,10,12],"labelPadding":16,"titleX":-57.6,"titleY":184.5,"titleAngle":-90,"titleAlign":"center","titleBaseline":"alphabetic"}}
  },
  "layer":[
   {"data":{"name":"diagB"},"mark":{"type":"line","color":"#000","strokeWidth":1,"strokeDash":[4,3.5]}},
   {"data":{"name":"b"},"mark":{"type":"point","filled":true,"size":80,"opacity":1,"strokeWidth":0.8},
    "encoding":{
     "shape":{"field":"s","type":"nominal","scale":{"domain":["EMEP","Sub-grid (1 km emis)","Sub-grid (7 km emis)","1:1"],"range":["square","triangle-up","diamond","M-2.7,0H-1.6M-0.8,0H0.3M1.1,0H2.2"]},"legend":{"legendX":5,"legendY":4}},
     "fill":{"field":"s","type":"nominal","scale":{"domain":["EMEP","Sub-grid (1 km emis)","Sub-grid (7 km emis)","1:1"],"range":["#FF0000","#0B6FE6","#FFC000","transparent"]},"legend":{"legendX":5,"legendY":4}},
     "stroke":{"field":"s","type":"nominal","scale":{"domain":["EMEP","Sub-grid (1 km emis)","Sub-grid (7 km emis)","1:1"],"range":["#404040","#404040","#404040","#000000"]},"legend":{"legendX":5,"legendY":4}}
    }}
  ]
 }
],
"resolve":{"scale":{"x":"independent","y":"independent","shape":"independent","fill":"independent","stroke":"independent","strokeWidth":"independent"},"legend":{"shape":"independent","fill":"independent","stroke":"independent","strokeWidth":"independent"}}
}
